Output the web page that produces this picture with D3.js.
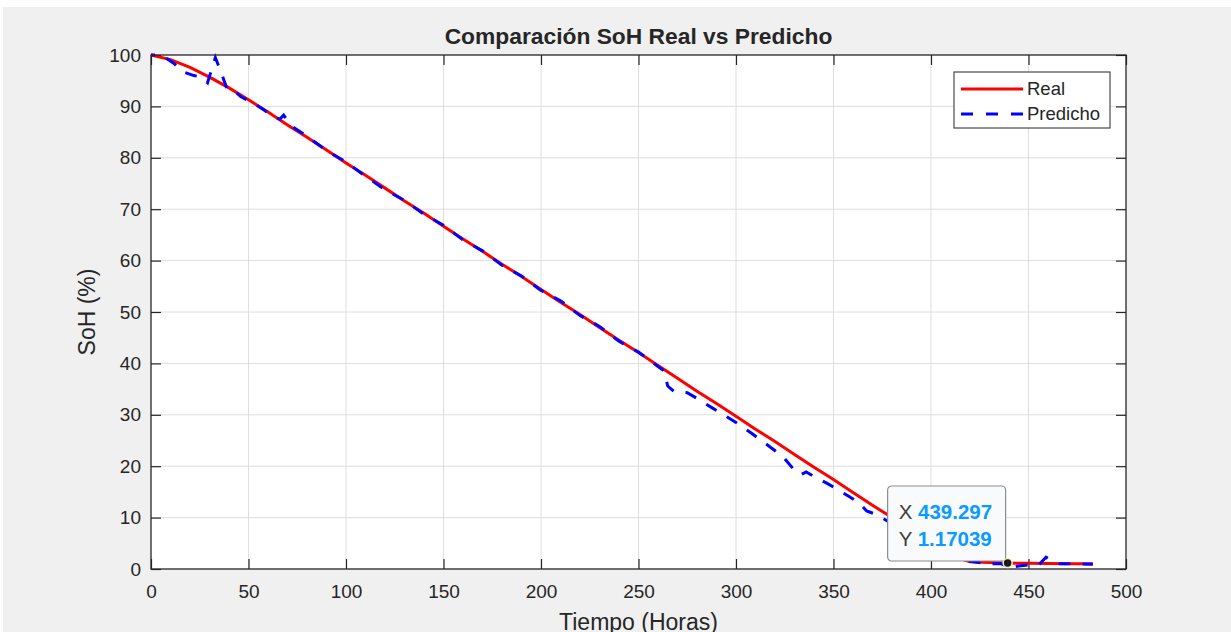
<!doctype html>
<html lang='es'>
  <head>
    <meta charset="utf-8">
    <script src="https://d3js.org/d3.v7.min.js"></script>
    <title>Comparación SoH Real vs Predicho</title>
  <style>
  body {
    margin: 0;
    background-color: white;
    overflow: hidden;
  }

  svg text {
    font-family: "Liberation Sans", Arial, Helvetica, sans-serif;
    fill: #262626;
  }

  .grid line {
    stroke: #dedede;
    stroke-width: 1;
  }

  .tick-label {
    font-size: 19px;
  }
  </style>
  </head>

  <body>
    <div id='dataHolder'></div>
    <script>
    // Real SoH curve (hours, %)
    const realT = [0, 10, 20, 30, 40, 50, 60, 70, 80, 90, 100, 110, 120, 130, 140, 150, 160, 170, 180, 190, 200,
                   210, 220, 230, 240, 250, 260, 270, 280, 290, 300, 310, 320, 330, 340, 350, 360, 370, 380, 390, 400,
                   410, 420, 430, 439.297, 450, 460, 470, 483];
    const realV = [100, 99.1, 97.6, 95.7, 93.6, 91.3, 88.9, 86.4, 84.0, 81.5, 79.0, 76.6, 74.1, 71.6, 69.2, 66.7, 64.2, 61.8, 59.3, 56.9, 54.4,
                   51.9, 49.5, 47.0, 44.5, 42.1, 39.6, 37.1, 34.6, 32.2, 29.7, 27.2, 24.8, 22.3, 19.8, 17.4, 14.9, 12.4, 10.0, 7.5, 5.1,
                   2.6, 1.4, 1.25, 1.17039, 1.1, 1.05, 1.0, 1.0];

    // Predicted SoH
    const predT = [0, 4, 8, 12, 16, 22, 26, 29, 33, 36, 39, 42, 46, 52, 58, 62, 66, 68, 72, 80, 90, 100, 110, 120, 130, 140,
                   150, 160, 170, 180, 190, 200, 210, 220, 230, 240, 250, 260, 263, 265, 268, 275, 280, 288, 295, 300, 308,
                   318, 324, 330, 333, 336, 340, 347, 352, 358, 363, 367, 372, 380, 390, 400, 410, 420, 430, 436, 441, 445,
                   450, 455, 459, 463, 466, 475, 483];
    const predV = [100, 100, 99.3, 98.3, 96.8, 96.0, 95.7, 94.6, 99.5, 96.6, 93.4, 93.3, 91.9, 90.7, 89.3, 88.1, 87.5, 88.3, 86.2, 84.2, 81.4, 79.2, 76.4, 73.8, 71.7, 69.0,
                   66.9, 64.0, 61.9, 59.1, 57.0, 54.2, 52.2, 49.3, 47.2, 44.3, 42.2, 39.4, 38.6, 35.6, 34.6, 34.3, 33.2, 31.3, 29.7, 28.5, 26.4,
                   23.6, 21.9, 19.2, 18.3, 18.9, 18.0, 16.6, 15.5, 14.1, 12.9, 11.3, 10.6, 8.8, 6.5, 4.1, 2.2, 1.5, 1.0, 1.0, 0.3, 0.6,
                   0.8, 0.7, 2.3, 1.4, 1.0, 1.0, 0.9];

    const xTicks = [0, 50, 100, 150, 200, 250, 300, 350, 400, 450, 500];
    const yTicks = [0, 10, 20, 30, 40, 50, 60, 70, 80, 90, 100];

    const tipX = 439.297;
    const tipY = 1.17039;

    const wsvg = 1231;
    const hsvg = 632;
    const pLeft = 151, pRight = 1126, pTop = 55, pBottom = 569;
    const tickLen = 10;

    const xScale = d3.scaleLinear().domain([0, 500]).range([pLeft, pRight]);
    const yScale = d3.scaleLinear().domain([0, 100]).range([pBottom, pTop]);

    const svg = d3.select('#dataHolder')
                  .append('svg')
                  .attr('width', wsvg)
                  .attr('height', hsvg);

    // figure background
    svg.append('rect')
        .attr('x', 3).attr('y', 7)
        .attr('width', wsvg - 3).attr('height', hsvg - 7)
        .attr('fill', '#f0f0f0');

    svg.append('rect')
        .attr('x', pLeft).attr('y', pTop)
        .attr('width', pRight - pLeft).attr('height', pBottom - pTop)
        .attr('fill', 'white');

    // grid
    const grid = svg.append('g').attr('class', 'grid');
    grid.selectAll('.gx')
        .data(xTicks.slice(1, -1))
        .enter()
        .append('line')
        .attr('x1', d => xScale(d)).attr('x2', d => xScale(d))
        .attr('y1', pTop).attr('y2', pBottom);
    grid.selectAll('.gy')
        .data(yTicks.slice(1, -1))
        .enter()
        .append('line')
        .attr('y1', d => yScale(d)).attr('y2', d => yScale(d))
        .attr('x1', pLeft).attr('x2', pRight);

    // axes: ticks inward, on all four sides
    const xAxisB = d3.axisBottom(xScale).tickValues(xTicks).tickSizeInner(-tickLen).tickSizeOuter(0).tickPadding(16);
    const xAxisT = d3.axisTop(xScale).tickValues(xTicks).tickSizeInner(-tickLen).tickSizeOuter(0).tickFormat('');
    const yAxisL = d3.axisLeft(yScale).tickValues(yTicks).tickSizeInner(-tickLen).tickSizeOuter(0).tickPadding(10);
    const yAxisR = d3.axisRight(yScale).tickValues(yTicks).tickSizeInner(-tickLen).tickSizeOuter(0).tickFormat('');

    const axes = [
      svg.append('g').attr('transform', 'translate(0,' + pBottom + ')').call(xAxisB),
      svg.append('g').attr('transform', 'translate(0,' + pTop + ')').call(xAxisT),
      svg.append('g').attr('transform', 'translate(' + pLeft + ',0)').call(yAxisL),
      svg.append('g').attr('transform', 'translate(' + pRight + ',0)').call(yAxisR)
    ];
    axes.forEach(a => {
      a.select('.domain').remove();
      a.selectAll('line').attr('stroke', '#262626').attr('stroke-width', 1.2);
      a.selectAll('text').attr('class', 'tick-label').attr('fill', '#262626');
    });

    // lines
    const line = d3.line().x(d => xScale(d[0])).y(d => yScale(d[1]));

    svg.append('path')
        .datum(d3.zip(realT, realV))
        .attr('d', line)
        .attr('fill', 'none')
        .attr('stroke', '#ff0000')
        .attr('stroke-width', 3);

    svg.append('path')
        .datum(d3.zip(predT, predV))
        .attr('d', line)
        .attr('fill', 'none')
        .attr('stroke', '#0000ff')
        .attr('stroke-width', 3)
        .attr('stroke-dasharray', '12,12')
        .attr('stroke-dashoffset', 8);

    // axes box
    svg.append('rect')
        .attr('x', pLeft).attr('y', pTop)
        .attr('width', pRight - pLeft).attr('height', pBottom - pTop)
        .attr('fill', 'none')
        .attr('stroke', '#262626')
        .attr('stroke-width', 1.3);

    // title and labels
    svg.append('text')
        .attr('x', (pLeft + pRight) / 2).attr('y', 44)
        .attr('text-anchor', 'middle')
        .attr('font-size', '22.8px')
        .attr('font-weight', 'bold')
        .attr('fill', '#000')
        .text('Comparación SoH Real vs Predicho');

    svg.append('text')
        .attr('x', (pLeft + pRight) / 2).attr('y', 630)
        .attr('text-anchor', 'middle')
        .attr('font-size', '23px')
        .text('Tiempo (Horas)');

    svg.append('text')
        .attr('transform', 'translate(95,' + ((pTop + pBottom) / 2) + ') rotate(-90)')
        .attr('text-anchor', 'middle')
        .attr('font-size', '23px')
        .text('SoH (%)');

    // legend
    const legend = svg.append('g').attr('transform', 'translate(954,72)');
    legend.append('rect')
        .attr('width', 156).attr('height', 56)
        .attr('fill', 'white')
        .attr('stroke', '#262626')
        .attr('stroke-width', 1);
    const legendItems = [['Real', '#ff0000', null], ['Predicho', '#0000ff', '12,13']];
    legendItems.forEach((it, i) => {
      const ly = 17 + i * 25;
      legend.append('line')
          .attr('x1', 7).attr('x2', 69)
          .attr('y1', ly).attr('y2', ly)
          .attr('stroke', it[1])
          .attr('stroke-width', 3)
          .attr('stroke-dasharray', it[2]);
      legend.append('text')
          .attr('x', 73).attr('y', ly + 6)
          .attr('font-size', '18.5px')
          .text(it[0]);
    });

    // data tip
    const px = xScale(tipX), py = yScale(tipY);
    const tip = svg.append('g').attr('transform', 'translate(' + (px - 120) + ',' + (py - 77) + ')');
    tip.append('rect')
        .attr('width', 118).attr('height', 75)
        .attr('rx', 4)
        .attr('fill', '#f9fafc')
        .attr('stroke', '#8c8c8c')
        .attr('stroke-width', 1.2);
    [['X', d3.format('.6')(tipX)], ['Y', d3.format('.6')(tipY)]].forEach((r, i) => {
      const t = tip.append('text')
          .attr('x', 11).attr('y', 33 + i * 27)
          .attr('font-size', '20.5px');
      t.append('tspan').attr('fill', '#404040').text(r[0] + ' ');
      t.append('tspan').attr('fill', '#0a9bff').attr('font-weight', 'bold').text(r[1]);
    });

    svg.append('circle')
        .attr('cx', px).attr('cy', py)
        .attr('r', 4.5)
        .attr('fill', '#1a1a1a')
        .attr('stroke', '#f0f0c8')
        .attr('stroke-width', 1.5);
    </script>
  </body>
</html>
